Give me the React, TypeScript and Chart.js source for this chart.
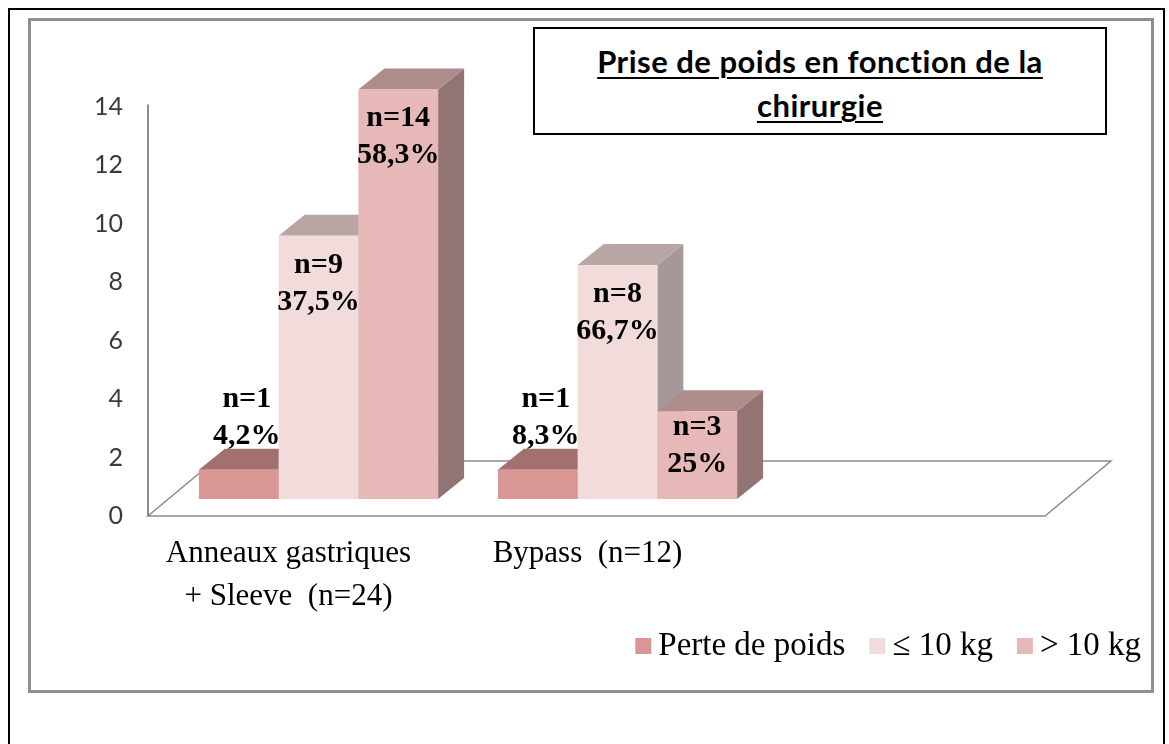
import React, { useEffect, useRef } from "react";
import { Chart, registerables } from "chart.js";

Chart.register(...registerables);

// ---- data ----
const categories: (string | string[])[] = [
  ["Anneaux gastriques", "+ Sleeve  (n=24)"],
  "Bypass  (n=12)",
  "",
];
const seriesNames = ["Perte de poids", "\u2264 10 kg", "> 10 kg"];
const perteValues = [1, 1, null];
const leq10Values = [9, 8, null];
const gt10Values = [14, 3, null];
const pertePct = [4.2, 8.3, null];
const leq10Pct = [37.5, 66.7, null];
const gt10Pct = [58.3, 25, null];
const yMin = 0;
const yMax = 14;
const yStep = 2;

// ---- styles ----
const frontColors = ["#d99694", "#f2dcdb", "#e6b9b8"];
const topColors = ["#a2706e", "#b8a6a5", "#ad8c8b"];
const sideColors = ["#8e6361", "#a69898", "#917473"];
const percents = [pertePct, leq10Pct, gt10Pct];

const DEPTH_X = 26;
const DEPTH_Y = -21;
const FLOOR_FRONT_X = -21;
const FLOOR_FRONT_Y = 17;
const FLOOR_DX = 66;
const FLOOR_DY = -55;

const fmtPct = (p: number) => String(p).replace(".", ",") + "%";

const depthPlugin = {
  id: "depth3d",
  beforeDatasetsDraw(chart: any) {
    const ctx = chart.ctx as CanvasRenderingContext2D;
    const area = chart.chartArea;
    const yScale = chart.scales.y;
    ctx.save();
    // floor
    const x0 = area.left + FLOOR_FRONT_X;
    const x1 = area.right + FLOOR_FRONT_X;
    const y0 = area.bottom + FLOOR_FRONT_Y;
    ctx.strokeStyle = "#8c8c8c";
    ctx.lineWidth = 1.5;
    ctx.beginPath();
    ctx.moveTo(x0, y0);
    ctx.lineTo(x1, y0);
    ctx.lineTo(x1 + FLOOR_DX, y0 + FLOOR_DY);
    ctx.lineTo(x0 + FLOOR_DX, y0 + FLOOR_DY);
    ctx.closePath();
    ctx.stroke();
    // vertical axis line
    ctx.lineWidth = 2;
    ctx.beginPath();
    ctx.moveTo(x0, y0);
    ctx.lineTo(x0, yScale.getPixelForValue(yMax) + FLOOR_FRONT_Y - 2);
    ctx.stroke();

    // 3D faces, left to right
    const nCat = chart.data.labels.length;
    const nDs = chart.data.datasets.length;
    for (let i = 0; i < nCat; i++) {
      for (let d = 0; d < nDs; d++) {
        const v = chart.data.datasets[d].data[i];
        if (v === null || v === undefined) continue;
        const el = chart.getDatasetMeta(d).data[i];
        const { x, y, base, width } = el.getProps(["x", "y", "base", "width"], true);
        const l = x - width / 2;
        const r = x + width / 2;
        // side
        ctx.fillStyle = sideColors[d];
        ctx.beginPath();
        ctx.moveTo(r, y);
        ctx.lineTo(r + DEPTH_X, y + DEPTH_Y);
        ctx.lineTo(r + DEPTH_X, base + DEPTH_Y);
        ctx.lineTo(r, base);
        ctx.closePath();
        ctx.fill();
        // top
        ctx.fillStyle = topColors[d];
        ctx.beginPath();
        ctx.moveTo(l, y);
        ctx.lineTo(l + DEPTH_X, y + DEPTH_Y);
        ctx.lineTo(r + DEPTH_X, y + DEPTH_Y);
        ctx.lineTo(r, y);
        ctx.closePath();
        ctx.fill();
      }
    }
    ctx.restore();
  },
  afterDatasetsDraw(chart: any) {
    const ctx = chart.ctx as CanvasRenderingContext2D;
    ctx.save();
    ctx.font = "bold 30px 'Liberation Serif', 'Times New Roman', serif";
    ctx.fillStyle = "#000";
    ctx.textAlign = "center";
    ctx.textBaseline = "middle";
    const nCat = chart.data.labels.length;
    const nDs = chart.data.datasets.length;
    for (let i = 0; i < nCat; i++) {
      for (let d = 0; d < nDs; d++) {
        const v = chart.data.datasets[d].data[i];
        if (v === null || v === undefined) continue;
        const el = chart.getDatasetMeta(d).data[i];
        const { x, y } = el.getProps(["x", "y"], true);
        const p = percents[d][i] as number;
        let first: number;
        let cx = x;
        if (v >= 5) first = y + 29;
        else if (v >= 2) first = y + 16;
        else {
          first = y - 71;
          cx = x + 8;
        }
        ctx.fillText("n=" + v, cx, first);
        ctx.fillText(fmtPct(p), cx, first + 37);
      }
    }
    ctx.restore();
  },
  afterDraw(chart: any) {
    // legend
    const ctx = chart.ctx as CanvasRenderingContext2D;
    ctx.save();
    ctx.font = "33px 'Liberation Serif', 'Times New Roman', serif";
    ctx.textBaseline = "alphabetic";
    ctx.textAlign = "left";
    const box = 16;
    const gapBoxText = 7;
    const gapItems = 24;
    const names = chart.data.datasets.map((ds: any) => ds.label as string);
    const widths = names.map((n: string) => ctx.measureText(n).width);
    const total =
      widths.reduce((a: number, w: number) => a + box + gapBoxText + w, 0) +
      gapItems * (names.length - 1);
    const right = chart.width - 28;
    const baseline = 655;
    let x = right - total;
    names.forEach((n: string, k: number) => {
      ctx.fillStyle = frontColors[k];
      ctx.fillRect(x, baseline - 17, box, box);
      x += box + gapBoxText;
      ctx.fillStyle = "#000";
      ctx.fillText(n, x, baseline);
      x += widths[k] + gapItems;
    });
    ctx.restore();
  },
};

export default function App() {
  const ref = useRef<HTMLCanvasElement | null>(null);

  useEffect(() => {
    if (!ref.current) return;
    const chart = new Chart(ref.current, {
      type: "bar",
      data: {
        labels: categories,
        datasets: [
          { label: seriesNames[0], data: perteValues, backgroundColor: frontColors[0] },
          { label: seriesNames[1], data: leq10Values, backgroundColor: frontColors[1] },
          { label: seriesNames[2], data: gt10Values, backgroundColor: frontColors[2] },
        ],
      },
      options: {
        responsive: false,
        animation: false,
        devicePixelRatio: 1,
        layout: { padding: { left: 0, right: 103, top: 89.5, bottom: 100 } },
        datasets: {
          bar: { categoryPercentage: 0.8, barPercentage: 1.0, borderWidth: 0 },
        },
        plugins: {
          legend: { display: false },
          tooltip: { enabled: false },
          title: { display: false },
        },
        scales: {
          x: {
            grid: { display: false, drawTicks: false },
            border: { display: false },
            ticks: {
              color: "#000",
              font: { family: "'Liberation Serif', 'Times New Roman', serif", size: 31, lineHeight: 1.4 },
              padding: 33,
              labelOffset: -30,
              maxRotation: 0,
              minRotation: 0,
              autoSkip: false,
            },
            afterFit: (s: any) => {
              s.height = 145;
            },
          },
          y: {
            min: yMin,
            max: yMax,
            grid: { display: false, drawTicks: false },
            border: { display: false },
            ticks: {
              stepSize: yStep,
              color: "#3a3a3a",
              font: { family: "Lato, 'Open Sans', sans-serif", size: 25 },
              padding: 46,
              labelOffset: 17,
            },
            afterFit: (s: any) => {
              s.width = 169;
            },
          },
        },
      },
      plugins: [depthPlugin],
    });
    return () => chart.destroy();
  }, []);

  return (
    <div style={{ position: "absolute", left: 0, top: 0, width: 1169, height: 744, overflow: "hidden", background: "#fff" }}>
      <div
        style={{
          position: "absolute",
          left: 8,
          top: 8,
          width: 1157,
          height: 736,
          borderTop: "2px solid #000",
          borderLeft: "2px solid #000",
          borderRight: "2px solid #000",
          boxSizing: "border-box",
        }}
      />
      <div
        style={{
          position: "absolute",
          left: 28,
          top: 18,
          width: 1126,
          height: 675,
          border: "3px solid #8f8f8f",
          boxSizing: "border-box",
        }}
      />
      <canvas
        ref={ref}
        width={1169}
        height={744}
        style={{ position: "absolute", left: 0, top: 0, width: 1169, height: 744 }}
      />
      <div
        style={{
          position: "absolute",
          left: 533,
          top: 27,
          width: 574,
          height: 108,
          border: "2px solid #000",
          boxSizing: "border-box",
          background: "#fff",
          paddingTop: 10,
          textAlign: "center",
          fontFamily: "Lato, 'Open Sans', sans-serif",
          fontWeight: 700,
          fontSize: 31,
          letterSpacing: "0.5px",
          lineHeight: "44px",
          color: "#000",
          textDecoration: "underline",
          textDecorationThickness: "2px",
          textUnderlineOffset: "4px",
        }}
      >
        Prise de poids en fonction de la
        <br />
        chirurgie
      </div>
    </div>
  );
}
